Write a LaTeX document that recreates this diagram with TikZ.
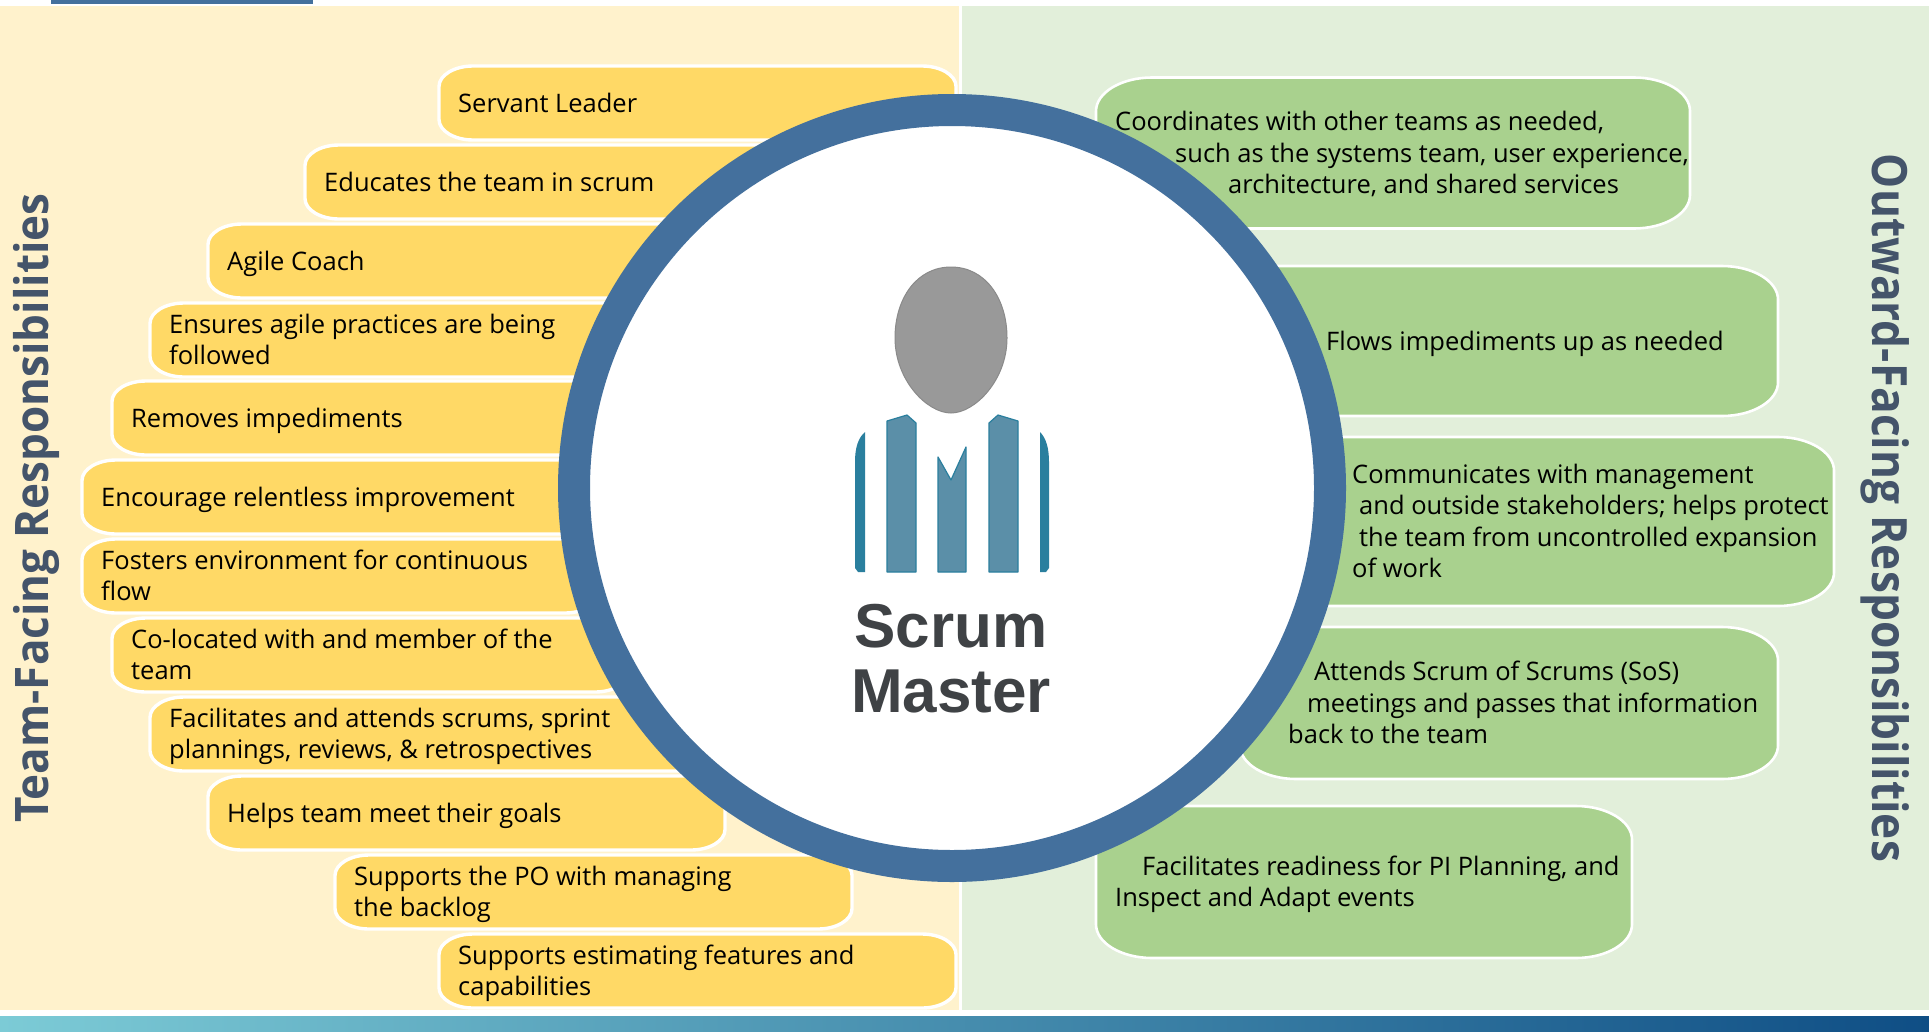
\documentclass[tikz,border=0pt]{standalone}
\usepackage{fontspec}
\setmainfont{Open Sans}
\newfontfamily\logofont{Liberation Sans}
\definecolor{leftbg}{HTML}{FFF2CC}
\definecolor{rightbg}{HTML}{E2EFDA}
\definecolor{amber}{HTML}{FFD966}
\definecolor{leaf}{HTML}{A9D18E}
\definecolor{ringblue}{HTML}{44709D}
\definecolor{slate}{HTML}{44546A}
\definecolor{suit}{HTML}{5B8FA8}
\definecolor{suitedge}{HTML}{2A7F9E}
\definecolor{logotext}{HTML}{3F4245}
\newcommand{\topstrut}{\rule{0pt}{26pt}}
\newcommand{\botstrut}{\rule[-8pt]{0pt}{8pt}}
\newcommand{\ebox}[9]{%
  \path[fill=#7,draw=white,line width=#8]
    (#2+#6,#3) -- (#2+#4-#6,#3)
    .. controls +(0.55*#6,0) and +(0,-0.55*#6*0.6) .. (#2+#4,#3+0.6*#6)
    -- (#2+#4,#3+#5-0.6*#6)
    .. controls +(0,0.55*#6*0.6) and +(0.55*#6,0) .. (#2+#4-#6,#3+#5)
    -- (#2+#6,#3+#5)
    .. controls +(-0.55*#6,0) and +(0,0.55*#6*0.6) .. (#2,#3+#5-0.6*#6)
    -- (#2,#3+0.6*#6)
    .. controls +(0,-0.55*#6*0.6) and +(-0.55*#6,0) .. cycle;
  \node[boxtext] (#1) at (#2,#3+0.5*#5) {\topstrut#9\botstrut};
}
\tikzset{
  boxtext/.style={anchor=west,inner xsep=0pt,inner ysep=0pt,align=left,font=\fontsize{25.5}{31.6}\selectfont,text=black},
  sidetitle/.style={font=\bfseries\fontsize{44}{48}\selectfont,text=slate,inner sep=0pt},
  suitbar/.style={fill=suit,draw=suitedge,line width=1.2pt,line join=round},
  suitedgebar/.style={fill=suitedge,draw=none},
  logoword/.style={font=\logofont\bfseries\fontsize{62}{62}\selectfont,text=logotext,inner sep=0pt,anchor=base}
}
\begin{document}
\begin{tikzpicture}[x=1pt,y=-1pt]
\useasboundingbox (0,0) rectangle (1929,1031);
\fill[white] (0,0) rectangle (1929,1031);
% panels and bars
\fill[leftbg] (0,6) rectangle (959,1010);
\fill[rightbg] (962,6) rectangle (1929,1010);
\fill[ringblue] (51,0) rectangle (313,4);
\shade[left color={rgb,255:red,124;green,203;blue,214},middle color={rgb,255:red,92;green,158;blue,180},right color={rgb,255:red,15;green,78;blue,133}] (0,1016) rectangle (1929,1031);
% left boxes
\def\lw{517}\def\lh{74}\def\lr{34}\def\lt{3.4pt}
\ebox{l1}{439}{66}{\lw}{\lh}{\lr}{amber}{\lt}{\hspace*{19pt}Servant Leader}
\ebox{l2}{305}{145}{\lw}{\lh}{\lr}{amber}{\lt}{\hspace*{19pt}Educates the team in scrum}
\ebox{l3}{208}{224}{\lw}{\lh}{\lr}{amber}{\lt}{\hspace*{19pt}Agile Coach}
\ebox{l4}{150}{303}{\lw}{\lh}{\lr}{amber}{\lt}{\hspace*{19pt}Ensures agile practices are being\\\hspace*{19pt}followed}
\ebox{l5}{112}{381}{\lw}{\lh}{\lr}{amber}{\lt}{\hspace*{19pt}Removes impediments}
\ebox{l6}{82}{460}{\lw}{\lh}{\lr}{amber}{\lt}{\hspace*{19pt}Encourage relentless improvement}
\ebox{l7}{82}{539}{\lw}{\lh}{\lr}{amber}{\lt}{\hspace*{19pt}Fosters environment for continuous\\\hspace*{19pt}flow}
\ebox{l8}{112}{618}{\lw}{\lh}{\lr}{amber}{\lt}{\hspace*{19pt}Co-located with and member of the\\\hspace*{19pt}team}
\ebox{l9}{150}{697}{570}{\lh}{\lr}{amber}{\lt}{\hspace*{19pt}Facilitates and attends scrums, sprint\\\hspace*{19pt}plannings, reviews, \& retrospectives}
\ebox{l10}{208}{776}{\lw}{\lh}{\lr}{amber}{\lt}{\hspace*{19pt}Helps team meet their goals}
\ebox{l11}{335}{855}{\lw}{\lh}{\lr}{amber}{\lt}{\hspace*{19pt}Supports the PO with managing\\\hspace*{19pt}the backlog}
\ebox{l12}{439}{934}{\lw}{\lh}{\lr}{amber}{\lt}{\hspace*{19pt}Supports estimating features and\\\hspace*{19pt}capabilities}
% right boxes
\def\rr{56}\def\rt{2.6pt}
\ebox{r1}{1096}{77.5}{594}{151}{\rr}{leaf}{\rt}{\hspace*{19pt}Coordinates with other teams as needed,\\\hspace*{79pt}such as the systems team, user experience,\\\hspace*{132pt}architecture, and shared services}
\ebox{r2}{1184}{266}{594}{150}{\rr}{leaf}{\rt}{\hspace*{142pt}Flows impediments up as needed}
\ebox{r3}{1240}{437}{594}{169}{\rr}{leaf}{\rt}{\hspace*{112pt}Communicates with management\\\hspace*{119pt}and outside stakeholders; helps protect\\\hspace*{119pt}the team from uncontrolled expansion\\\hspace*{112pt}of work}
\ebox{r4}{1240}{627}{538}{152}{\rr}{leaf}{\rt}{\hspace*{74pt}Attends Scrum of Scrums (SoS)\\\hspace*{67pt}meetings and passes that information\\\hspace*{48pt}back to the team}
\ebox{r5}{1096}{806}{536}{152}{\rr}{leaf}{\rt}{\hspace*{46pt}Facilitates readiness for PI Planning, and\\\hspace*{19pt}Inspect and Adapt events}
% side titles
\node[sidetitle,rotate=90,yscale=1.05] (teamtitle) at (36,508) {Team-Facing Responsibilities};
\node[sidetitle,rotate=-90,yscale=1.1,font=\bfseries\fontsize{44.2}{48}\selectfont] (outtitle) at (1885,508) {Outward-Facing Responsibilities};
% ring
\node[circle,fill=white,draw=ringblue,line width=32pt,minimum size=756pt,inner sep=0pt] (ring) at (952,488) {};
% person
\path[fill=black!40,draw=black!46,line width=1pt]
  (951,267) .. controls (985,267) and (1007,298) .. (1007,338)
  .. controls (1007,380) and (975,413) .. (951,413)
  .. controls (927,413) and (895,380) .. (895,338)
  .. controls (895,298) and (917,267) .. cycle;
\path[suitedgebar] (865,432) .. controls (858,438) and (855,448) .. (855,462) -- (855,568) -- (858,572) -- (865,572) -- cycle;
\path[suitedgebar] (1040,432) .. controls (1046,438) and (1049,448) .. (1049,462) -- (1049,568) -- (1046,572) -- (1040,572) -- cycle;
\path[suitbar] (887,421) -- (907,415) -- (916,423) -- (916,572) -- (887,572) -- cycle;
\path[suitbar] (1018,421) -- (998,415) -- (989,423) -- (989,572) -- (1018,572) -- cycle;
\path[suitbar] (938,457) -- (951,480) -- (966,447) -- (966,572) -- (938,572) -- cycle;
\node[logoword] (scrumword) at (951,647) {Scrum};
\node[logoword] (masterword) at (951,712) {Master};
\end{tikzpicture}
\end{document}
